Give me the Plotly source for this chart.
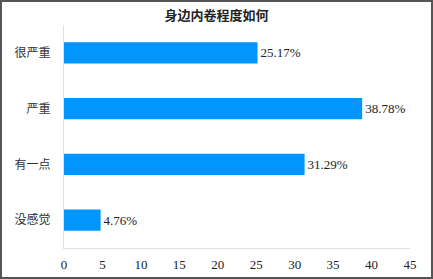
import plotly.graph_objects as go

categories = ["很严重", "严重", "有一点", "没感觉"]
values = [25.17, 38.78, 31.29, 4.76]
labels = ["25.17%", "38.78%", "31.29%", "4.76%"]
tick_vals = [0, 5, 10, 15, 20, 25, 30, 35, 40, 45]

W, H = 433, 279
ml, mr, mt, mb = 64, 23, 25, 31
pw, ph = W - ml - mr, H - mt - mb

font_family = "Liberation Serif, Noto Sans CJK SC, serif"

fig = go.Figure(go.Bar(
    x=values, y=categories, orientation="h",
    marker=dict(color="#0095FF", line=dict(width=0)),
    width=0.38,
    text=labels, textposition="outside", cliponaxis=False,
    textfont=dict(family=font_family, size=13, color="#222"),
))

fig.update_layout(
    width=W, height=H,
    margin=dict(l=ml, r=mr, t=mt, b=mb, autoexpand=False),
    paper_bgcolor="white", plot_bgcolor="white",
    showlegend=False,
    font=dict(family=font_family, size=12, color="#333"),
    title=dict(text="<b>身边内卷程度如何</b>", xref="container", x=0.5, xanchor="center",
               yref="container", y=1 - 15 / H, yanchor="middle",
               font=dict(family=font_family, size=13, color="#222")),
    xaxis=dict(range=[0, 45], tickvals=tick_vals, showgrid=False, zeroline=False,
               showline=True, linecolor="#e0e0e6", linewidth=1, ticks="", automargin=False,
               tickfont=dict(family=font_family, size=13, color="#222"), ticklabelstandoff=4),
    yaxis=dict(categoryorder="array", categoryarray=categories[::-1], showgrid=False,
               showline=True, linecolor="#e0e0e6", linewidth=1, ticks="", automargin=False,
               tickfont=dict(family=font_family, size=12, color="#333"), ticklabelstandoff=10),
    bargap=0.62,
    shapes=[dict(type="rect", xref="paper", yref="paper",
                 x0=-(ml - 1) / pw, x1=1 + (mr - 1) / pw,
                 y0=-(mb - 1) / ph, y1=1 + (mt - 1) / ph,
                 line=dict(color="#555", width=2), fillcolor="rgba(0,0,0,0)", layer="above")],
)

fig.write_html("out.html", config={"displayModeBar": False},
               post_script="document.body.style.margin='0';document.body.style.overflow='hidden';")
